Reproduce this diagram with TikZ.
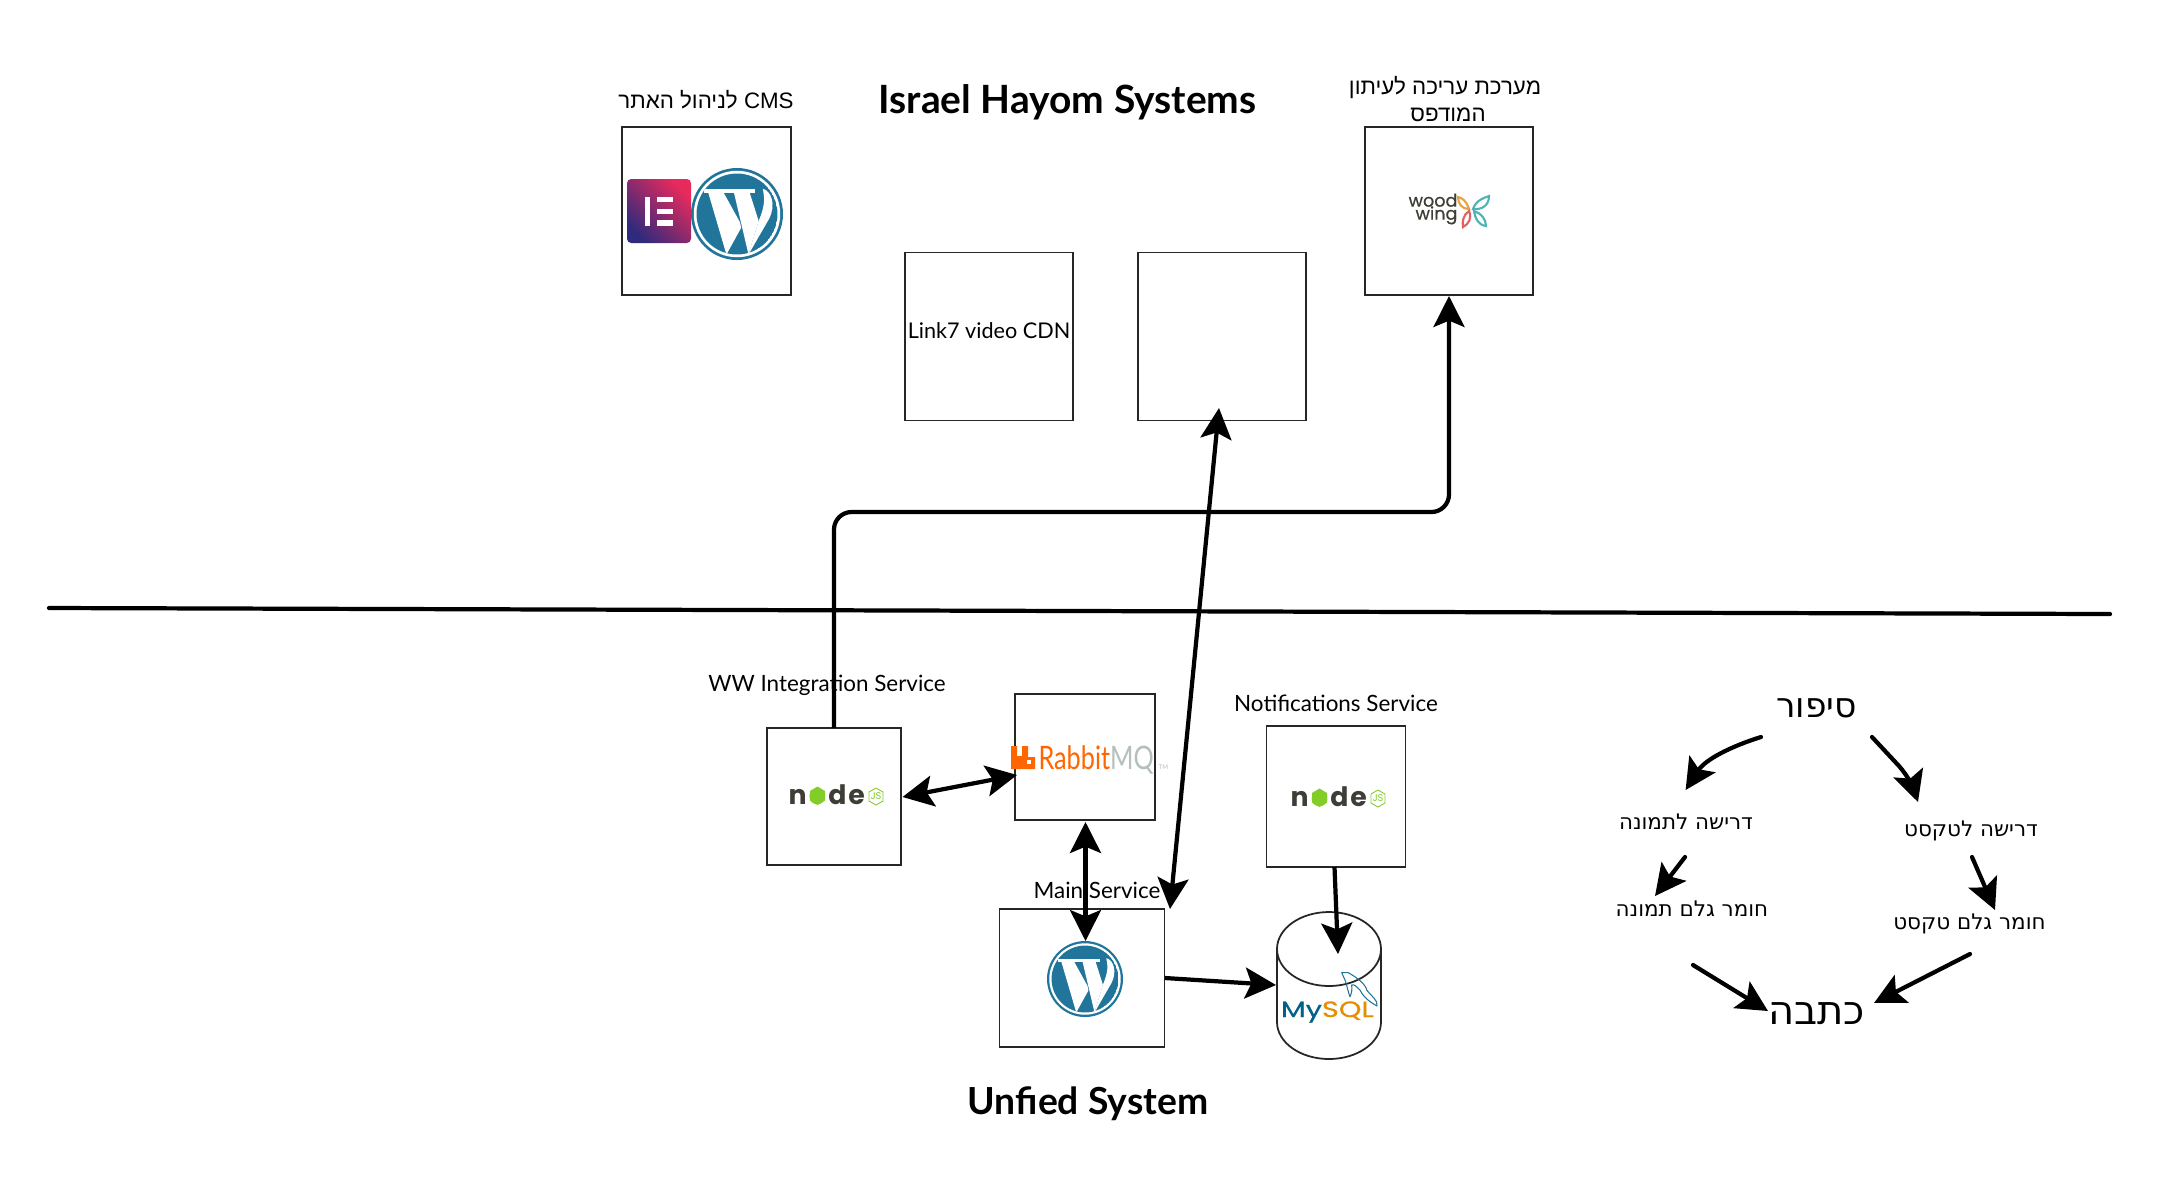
\documentclass[tikz,border=0pt]{standalone}
\usepackage{fontspec}
\usetikzlibrary{arrows.meta,calc}
\TeXXeTstate=1
\lineskiplimit=-10pt
\setmainfont{Lato}
\newfontfamily\hebf[Script=Hebrew]{Liberation Sans}
\newfontfamily\hebd[Script=Hebrew]{DejaVu Sans}
\newfontfamily\popf{Poppins}
\newfontfamily\popm[FakeBold=0.6]{Poppins}
\newfontfamily\ssf{Lato}
\definecolor{wp}{HTML}{21759B}
\definecolor{nodedark}{HTML}{3E3E36}
\definecolor{nodegreen}{HTML}{83CD29}
\definecolor{rabbit}{HTML}{FF6600}
\definecolor{mqgray}{HTML}{B4C0BD}
\definecolor{myblue}{HTML}{00618A}
\definecolor{myorange}{HTML}{E48E00}
\definecolor{wwteal}{HTML}{4FB3B5}
\definecolor{wworange}{HTML}{E8A33D}
\definecolor{wwred}{HTML}{E2605F}
\definecolor{elA}{HTML}{2F2A7C}
\definecolor{elB}{HTML}{92246E}
\definecolor{elC}{HTML}{E92A5C}
\newcommand{\fsz}[1]{\fontsize{#1}{#1}\selectfont}
\tikzset{
  box/.style={draw=black!85,line width=0.5pt,fill=white,inner sep=0pt,outer sep=0pt},
  conn/.style={line width=1.2pt,line cap=round,-{Stealth[length=8.8pt,width=8.8pt,inset=1.8pt]}},
  biconn/.style={line width=1.2pt,{Stealth[length=8.8pt,width=8.8pt,inset=1.8pt]}-{Stealth[length=8.8pt,width=8.8pt,inset=1.8pt]}},
  lbl/.style={inner sep=0pt,font=\ssf\fsz{6.38}},
  heblbl/.style={inner sep=0pt,font=\hebf\fsz{6.35},align=center},
  hebsm/.style={inner sep=0pt,font=\hebd\fsz{6.1}},
  hebbig/.style={inner sep=0pt,font=\hebd\fsz{9.8}}
}
\newcommand{\WPlogo}[3]{%
  \begin{scope}[shift={(#1,#2)},scale=#3,yscale=-1]
    \fill[wp] (0,0) circle (1);
    \fill[white] (0,0) circle (.94);
    \begin{scope}
      \clip (0,0) circle (.88);
      \fill[wp] (0,0) circle (.88);
      \fill[white] (-.63,.48) -- (-.30,.48) -- (.065,-.18) -- (.09,-.30) -- (-.23,-.88) -- cycle;
      \fill[white] (-.07,.48) -- (.27,.48) -- (.47,-.15) -- (.25,-.88) -- cycle;
      \fill[white] (.25,-.88) -- (.47,-.15) .. controls (.62,.2) and (.60,.35) .. (.56,.55) .. controls (.75,.5) and (.85,.2) .. (.70,-.1) -- cycle;
      \fill[white] (-.72,.46) rectangle (-.14,.54);
      \fill[white] (-.12,.46) rectangle (.40,.54);
    \end{scope}
  \end{scope}}
\newcommand{\NodeLogo}[3]{% prefix, dx, dy
  \begin{scope}[shift={(#2,#3)}]
    \node[anchor=base,inner sep=0pt,text=nodedark,font=\popf\bfseries\fsz{7.6}] (#1n) at (797.5,804) {n};
    \node[anchor=base,inner sep=0pt,text=nodegreen,font=\popf\bfseries\fsz{7.6}] (#1o) at (817.5,804) {o};
    \fill[nodegreen] (817.5,786.5) -- (825,791) -- (825,800.5) -- (817.5,805) -- (810,800.5) -- (810,791) -- cycle;
    \node[anchor=base,inner sep=0pt,text=nodedark,font=\popf\bfseries\fsz{7.6}] (#1d) at (837.5,804) {d};
    \node[anchor=base,inner sep=0pt,text=nodedark,font=\popf\bfseries\fsz{7.6}] (#1e) at (856.5,804) {e};
    \draw[nodegreen,line width=0.25pt,fill=white] (876,788) -- (883,792) -- (883,801) -- (876,805) -- (869,801) -- (869,792) -- cycle;
    \node[inner sep=0pt,text=nodegreen,font=\popf\fsz{2.8}] (#1js) at (876,796.5) {JS};
  \end{scope}}
\begin{document}
\begin{tikzpicture}[x=0.01cm,y=-0.01cm]
\useasboundingbox (0,0) rectangle (2160,1202);
\fill[white] (0,0) rectangle (2160,1202);

% boxes
\node[box,minimum width=1.69cm,minimum height=1.68cm] (cms) at (706.5,211) {};
\node[box,minimum width=1.68cm,minimum height=1.68cm] (link) at (989,336.5) {};
\node[box,minimum width=1.68cm,minimum height=1.68cm] (empty) at (1222,336.5) {};
\node[box,minimum width=1.68cm,minimum height=1.68cm] (wood) at (1449,211) {};
\node[box,minimum width=1.34cm,minimum height=1.37cm] (ww) at (834,796.5) {};
\node[box,minimum width=1.40cm,minimum height=1.26cm] (rmq) at (1085,757) {};
\node[box,minimum width=1.39cm,minimum height=1.41cm] (notif) at (1336,796.5) {};
\node[box,minimum width=1.65cm,minimum height=1.38cm] (main) at (1082,978) {};

% cylinder
\draw[black!85,line width=0.5pt,fill=white] (1277,949) -- (1277,1022) arc[start angle=180,end angle=0,x radius=52,y radius=37] -- (1381,949);
\draw[black!85,line width=0.5pt,fill=white] (1329,949) ellipse [x radius=52,y radius=37];

% Divider
\coordinate (divL) at (49,608);
\coordinate (divR) at (2110,614);
\draw[line width=1.2pt,line cap=round] (divL) -- (divR);

% titles and labels
\node[inner sep=0pt,font=\ssf\bfseries\fsz{11.07}] (t1) at (1067.5,102) {Israel Hayom Systems};
\node[inner sep=0pt,font=\ssf\bfseries\fsz{10.6}] (t2) at (1088,1104) {Unfied System};
\node[heblbl] (lcms) at (706,100) {\beginR\beginL CMS\endL{} לניהול האתר\endR};
\node[heblbl] (lwood1) at (1445,88) {\beginR מערכת עריכה לעיתון\endR};
\node[heblbl] (lwood2) at (1448,115) {\beginR המודפס\endR};
\node[inner sep=0pt,font=\ssf\fsz{6.15}] (llink) at (989,330.5) {Link7 video CDN};
\node[lbl] (lww) at (827,685) {WW Integration Service};
\node[lbl] (lnot) at (1336,703.5) {Notifications Service};
\node[lbl] (lmain) at (1097,890) {Main Service};

% Elementor + WP
\shade[rounded corners=1.2pt,left color=elA,middle color=elB,right color=elC,shading angle=135] (627,179) rectangle (691,243);
\fill[white] (645,197) rectangle (650,226);
\fill[white] (657,197) rectangle (673,202);
\fill[white] (657,209) rectangle (673,214);
\fill[white] (657,220) rectangle (673,226);
\WPlogo{737}{214}{46}

% WoodWing
\node[inner sep=0pt,align=right,text=nodedark,font=\popm\fontsize{5}{3.7}\selectfont] (wwa) at (1433,209) {wood\\wing};
\draw[wworange,line width=0.6pt] (1469,209) .. controls (1466,200) and (1462,198) .. (1458,197) .. controls (1458,204) and (1462,209) .. cycle;
\draw[wwteal,line width=0.6pt] (1473,209) .. controls (1476,200) and (1484,198) .. (1489,196) .. controls (1489,206) and (1481,210) .. cycle;
\draw[wwred,line width=0.6pt] (1469,211) .. controls (1463,215) and (1462,222) .. (1463,227) .. controls (1469,224) and (1472,218) .. cycle;
\draw[wwteal,line width=0.6pt] (1474,211) .. controls (1475,218) and (1478,225) .. (1486,226) .. controls (1486,219) and (1481,213) .. cycle;

% RabbitMQ
\fill[rabbit] (1011,746) -- (1017,746) -- (1017,756) -- (1022,756) -- (1022,746) -- (1028,746) -- (1028,757) -- (1035,757) -- (1035,769) -- (1011,769) -- cycle;
\fill[white] (1027,760) rectangle (1031,764);
\node[anchor=base west,inner sep=0pt,font=\ssf\fsz{9.2},xscale=0.78,transform shape] (rab) at (1038,769) {\textcolor{rabbit}{Rabbit}\textcolor{mqgray}{MQ}};
\node[anchor=base west,inner sep=0pt,text=mqgray,font=\ssf\fsz{1.8}] (tm) at (1158,769) {TM};

% Node logos
\NodeLogo{na}{0}{0}
\NodeLogo{nb}{502}{2}

% WP main
\WPlogo{1085}{979}{38}

% MySQL
\node[anchor=base west,inner sep=0pt,font=\popm\fsz{6.3},xscale=1.3,transform shape] (mysql) at (1280,1017) {\textcolor{myblue}{My}\textcolor{myorange}{SQL}};
\draw[wp,line width=0.3pt,line join=round] (1341.7,972.7) -- (1348.3,972.7) .. controls (1358,978) and (1366,985) .. (1366.7,990) .. controls (1372,997) and (1378,1000) .. (1377,1006) .. controls (1370,1002) and (1364,998) .. (1360,990) .. controls (1356,986) and (1354,984) .. (1351.7,985) .. controls (1352,990) and (1352,992) .. (1350,996.7) .. controls (1348,992) and (1347,985) .. (1345,980) -- cycle;

% connectors
\coordinate (wwtop) at (ww.north);
\coordinate (woodtip) at (1449,296);
\draw[conn,rounded corners=5pt,line cap=butt] (wwtop) -- (834,512) -- (1449,512) -- (woodtip);
\coordinate (emptytip) at (1219,408);
\coordinate (maintip) at (1170,909);
\draw[biconn] (emptytip) -- (maintip);
\coordinate (wwr) at (902.5,797);
\coordinate (rml) at (1017,775);
\draw[biconn] (wwr) -- (rml);
\coordinate (rmb) at (1085.5,822);
\coordinate (wpt) at (1085.5,941);
\draw[biconn] (rmb) -- (wpt);
\coordinate (mainr) at (1165,978);
\coordinate (dbl) at (1276,985);
\draw[conn,line cap=butt] (mainr) -- (dbl);
\coordinate (notb) at (1334.5,867);
\coordinate (dbt) at (1338,954);
\draw[conn,line cap=butt] (notb) -- (dbt);

% right diagram
\node[hebbig] (sipur) at (1816.5,708) {\beginR סיפור\endR};
\node[hebsm] (dt) at (1686,822) {\beginR דרישה לתמונה\endR};
\node[hebsm] (dx) at (1971,831) {\beginR דרישה לטקסט\endR};
\node[hebsm] (gt) at (1692,909) {\beginR חומר גלם תמונה\endR};
\node[hebsm] (gx) at (1969.5,924) {\beginR חומר גלם טקסט\endR};
\node[inner sep=0pt,font=\hebd\fsz{11.4}] (ktv) at (1816.5,1014) {\beginR כתבה\endR};
\coordinate (a1s) at (1761,737);
\coordinate (a1e) at (1685.6,790);
\draw[conn] (a1s) .. controls (1729,747) and (1705,760) .. (a1e);
\coordinate (a2s) at (1872,737);
\coordinate (a2m) at (1899,766);
\coordinate (a2e) at (1918,802);
\draw[conn] (a2s) -- (a2m) .. controls (1908,776) and (1914,790) .. (a2e);
\coordinate (a3s) at (1685,857);
\coordinate (a3e) at (1655,896);
\draw[conn] (a3s) -- (a3e);
\coordinate (a4s) at (1972,857);
\coordinate (a4e) at (1995,910);
\draw[conn] (a4s) -- (a4e);
\coordinate (a5s) at (1693,965);
\coordinate (a5e) at (1768,1011);
\draw[conn] (a5s) -- (a5e);
\coordinate (a6s) at (1970,954);
\coordinate (a6e) at (1874,1003);
\draw[conn] (a6s) -- (a6e);
\end{tikzpicture}
\end{document}
